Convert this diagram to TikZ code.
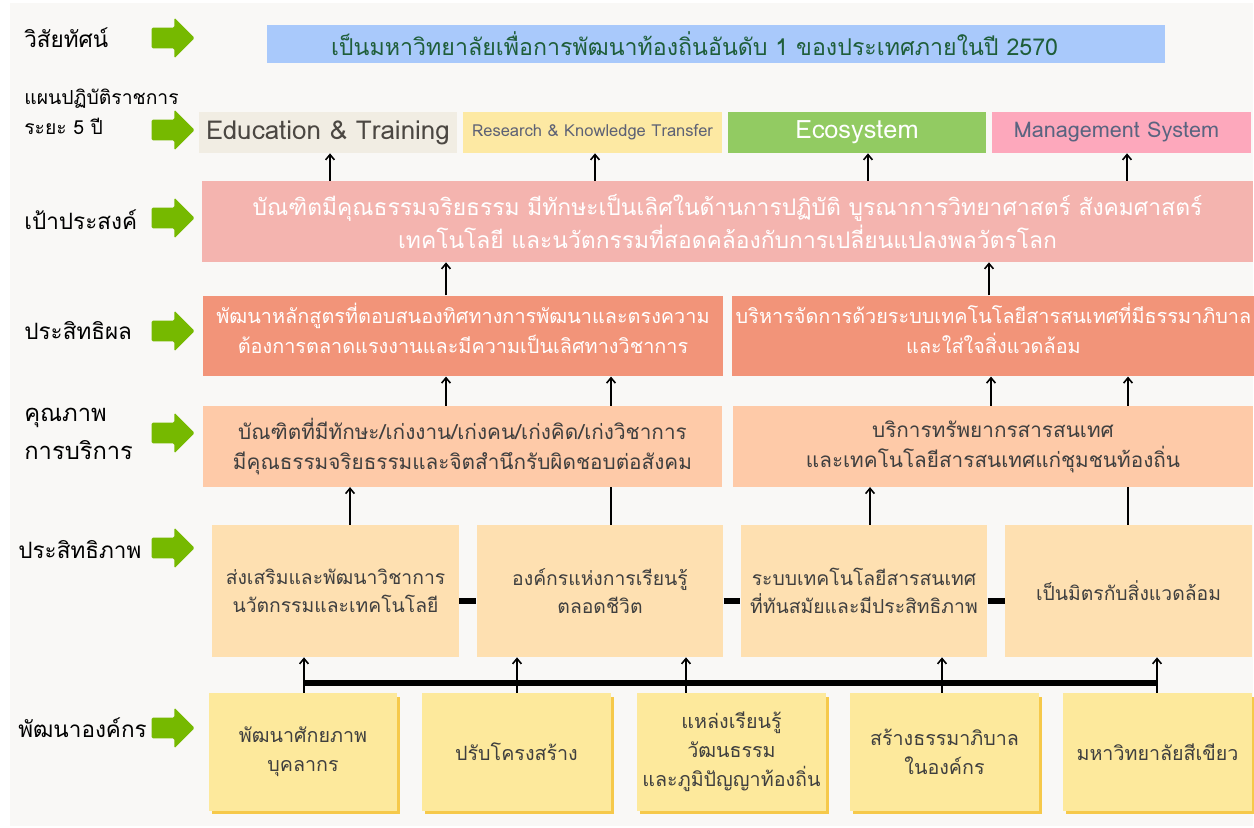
\documentclass[tikz,border=0pt]{standalone}
\usepackage{fontspec}
\setmainfont{Loma}[Script=Thai]
\usepackage{xcolor}
\usetikzlibrary{arrows.meta}
\usetikzlibrary{shapes.arrows,shadows}
\definecolor{bgc}{HTML}{F9F8F6}
\definecolor{visionc}{HTML}{A9C9FB}
\definecolor{visiontxt}{HTML}{1F5E3A}
\definecolor{educ}{HTML}{F1EDE3}
\definecolor{edutxt}{HTML}{4B4742}
\definecolor{resc}{HTML}{FDE9A3}
\definecolor{restxt}{HTML}{5E6275}
\definecolor{ecoc}{HTML}{92CB62}
\definecolor{mgtc}{HTML}{FDA8BC}
\definecolor{mgttxt}{HTML}{5A6480}
\definecolor{goalc}{HTML}{F4B4AF}
\definecolor{effc}{HTML}{F29479}
\definecolor{qualc}{HTML}{FECAA8}
\definecolor{efcc}{HTML}{FEE0B1}
\definecolor{orgc}{HTML}{FDE99C}
\definecolor{orgsh}{HTML}{F6C94A}
\definecolor{arrowg}{HTML}{76B900}
\definecolor{txtc}{HTML}{3F3F3F}

\begin{document}
\begin{tikzpicture}[x=0.02cm,y=-0.02cm]
\tikzstyle{lbl}=[anchor=west,align=left,inner sep=0pt,text=black,font=\fontsize{12.8}{17}\selectfont]
\tikzstyle{garrow}=[single arrow,fill=arrowg,inner sep=0pt,minimum height=0.86cm,single arrow head extend=0.2cm,rounded corners=0.8pt]
\tikzstyle{box}=[rectangle,inner sep=2pt,align=center,font=\fontsize{11.8}{17}\selectfont]
\tikzstyle{plan}=[box,minimum width=5.18cm,minimum height=0.82cm]
\tikzstyle{half}=[box,minimum width=10.4cm,minimum height=1.61cm]
\tikzstyle{efcbox}=[box,fill=efcc,text=txtc,minimum width=4.93cm,minimum height=2.64cm,font=\fontsize{11}{16}\selectfont]
\tikzstyle{orgbox}=[box,fill=orgc,text=txtc,minimum width=3.78cm,minimum height=2.36cm,font=\fontsize{11.2}{16.5}\selectfont,
  drop shadow={shadow xshift=0.06cm,shadow yshift=-0.07cm,fill=orgsh,opacity=1}]
\tikzstyle{up}=[-{Straight Barb[length=3pt,width=5pt]},line width=0.9pt]
\tikzstyle{link}=[line width=0.9pt]
\tikzstyle{bar}=[line width=3.4pt]

\useasboundingbox (0,0) rectangle (1254,828);
\fill[bgc] (10,3) rectangle (1253,826);

% row labels
\node[lbl] (lvision) at (24,38) {วิสัยทัศน์};
\node[lbl,font=\fontsize{11}{17}\selectfont] (lplan) at (24,112) {แผนปฏิบัติราชการ\\ระยะ 5 ปี};
\node[lbl] (lgoal) at (24,220) {เป้าประสงค์};
\node[lbl] (leff) at (24,331) {ประสิทธิผล};
\node[lbl,font=\fontsize{13.5}{17}\selectfont] (lqual) at (24,434) {คุณภาพ\\[5pt]การบริการ};
\node[lbl] (lefc) at (18,550) {ประสิทธิภาพ};
\node[lbl] (lorg) at (18,728) {พัฒนาองค์กร};
%
\foreach \y/\n in {38/1,130/2,218/3,331/4,433/5,548/6,728/7}
  \node[garrow] (ga\n) at (168,\y) {\rule{0pt}{0.4cm}};

% boxes
\node[box,fill=visionc,text=visiontxt,minimum width=17.96cm,minimum height=0.76cm,font=\fontsize{13.2}{17}\selectfont] (vision) at (716,44)
  {\hspace*{-0.86cm}เป็นมหาวิทยาลัยเพื่อการพัฒนาท้องถิ่นอันดับ 1 ของประเทศภายในปี 2570};
\node[plan,fill=educ,text=edutxt,font=\fontsize{14.8}{17}\selectfont] (edu) at (328,132.5) {Education \& Training};
\node[plan,fill=resc,text=restxt,font=\fontsize{9.4}{10}\selectfont] (res) at (592.5,132.5) {Research \& Knowledge Transfer};
\node[plan,fill=ecoc,text=white,font=\fontsize{14.4}{17}\selectfont] (eco) at (857,132.5) {Ecosystem};
\node[plan,fill=mgtc,text=mgttxt,font=\fontsize{12.3}{17}\selectfont] (mgt) at (1121.5,132.5) {\hspace*{-0.2cm}Management System};
%
\node[box,fill=goalc,text=white,minimum width=21.02cm,minimum height=1.62cm,font=\fontsize{13}{19}\selectfont] (goal) at (727.5,221.5)
  {บัณฑิตมีคุณธรรมจริยธรรม มีทักษะเป็นเลิศในด้านการปฏิบัติ บูรณาการวิทยาศาสตร์ สังคมศาสตร์\\
   เทคโนโลยี และนวัตกรรมที่สอดคล้องกับการเปลี่ยนแปลงพลวัตรโลก};
%
\node[half,fill=effc,text=white,font=\fontsize{11.3}{17}\selectfont] (effL) at (463,336)
  {พัฒนาหลักสูตรที่ตอบสนองทิศทางการพัฒนาและตรงความ\\ต้องการตลาดแรงงานและมีความเป็นเลิศทางวิชาการ\rule[-9pt]{0pt}{0pt}};
\node[half,fill=effc,text=white,font=\fontsize{11.3}{17}\selectfont] (effR) at (993.5,336)
  {บริหารจัดการด้วยระบบเทคโนโลยีสารสนเทศที่มีธรรมาภิบาล\\และใส่ใจสิ่งแวดล้อม\rule[-9pt]{0pt}{0pt}};
%
\node[half,fill=qualc,text=txtc] (qualL) at (462.5,446.5)
  {บัณฑิตที่มีทักษะ/เก่งงาน/เก่งคน/เก่งคิด/เก่งวิชาการ\\มีคุณธรรมจริยธรรมและจิตสำนึกรับผิดชอบต่อสังคม};
\node[half,fill=qualc,text=txtc] (qualR) at (993,446.5)
  {บริการทรัพยากรสารสนเทศ\\และเทคโนโลยีสารสนเทศแก่ชุมชนท้องถิ่น};
%
\node[efcbox] (efc1) at (335.5,591) {ส่งเสริมและพัฒนาวิชาการ\\นวัตกรรมและเทคโนโลยี};
\node[efcbox] (efc2) at (600,591) {องค์กรแห่งการเรียนรู้\\ตลอดชีวิต};
\node[efcbox] (efc3) at (864,591) {ระบบเทคโนโลยีสารสนเทศ\\ที่ทันสมัยและมีประสิทธิภาพ};
\node[efcbox] (efc4) at (1128.5,591) {เป็นมิตรกับสิ่งแวดล้อม};
%
\node[orgbox] (org1) at (303,752) {พัฒนาศักยภาพ\\บุคลากร};
\node[orgbox] (org2) at (516.5,752) {ปรับโครงสร้าง};
\node[orgbox] (org3) at (731.5,752) {แหล่งเรียนรู้\\วัฒนธรรม\\และภูมิปัญญาท้องถิ่น};
\node[orgbox] (org4) at (944.5,752) {สร้างธรรมาภิบาล\\ในองค์กร};
\node[orgbox] (org5) at (1157.5,752) {มหาวิทยาลัยสีเขียว};

% connectors
\foreach \x/\t in {330/edu,595/res,868/eco,1127/mgt}
  \draw[up] (goal.north -| \x,0) -- (\t.south -| \x,0);
\draw[up] (effL.north -| 446,0) -- (goal.south -| 446,0);
\draw[up] (effR.north -| 989,0) -- (goal.south -| 989,0);
\foreach \x/\s/\t in {446/qualL/effL,611/qualL/effL,991/qualR/effR,1128/qualR/effR}
  \draw[up] (\s.north -| \x,0) -- (\t.south -| \x,0);
\draw[up] (efc1.north -| 350,0) -- (qualL.south -| 350,0);
\draw[link] (efc2.north -| 611,0) -- (qualL.south -| 611,0);
\draw[up] (efc3.north -| 870,0) -- (qualR.south -| 870,0);
\draw[link] (efc4.north -| 1128,0) -- (qualR.south -| 1128,0);
%
\draw[bar] (efc1.east |- 0,601) -- (efc2.west |- 0,601);
\draw[bar] (efc2.east |- 0,601) -- (efc3.west |- 0,601);
\draw[bar] (efc3.east |- 0,601) -- (efc4.west |- 0,601);
%
\coordinate (busL) at (304,683);
\coordinate (busR) at (1157,683);
\draw[bar] (busL) -- (busR);
\foreach \x/\s/\t in {304/org1/efc1,517/org2/efc2,686/org3/efc2,942/org4/efc3,1157/org5/efc4}{
  \draw[link] (\s.north -| \x,0) -- (busL -| \x,0);
  \draw[up] (busL -| \x,0) -- (\t.south -| \x,0);
}
\end{tikzpicture}
\end{document}
